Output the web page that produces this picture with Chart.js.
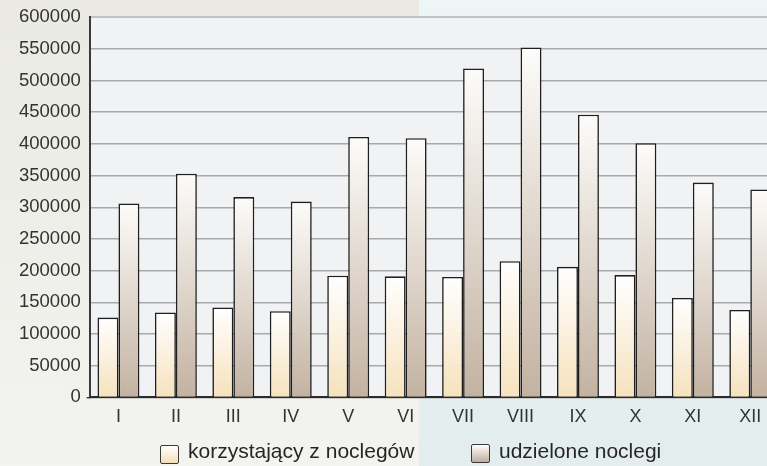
<!DOCTYPE html>
<html>
<head>
<meta charset="utf-8">
<script src="https://cdn.jsdelivr.net/npm/chart.js@4.4.1/dist/chart.umd.min.js"></script>
<style>
  html, body { margin: 0; padding: 0; width: 767px; height: 466px; overflow: hidden; }
  body { position: relative; font-family: "Liberation Sans", Arial, sans-serif; color: #262626; }
  .bg-left { position: absolute; left: 0; top: 0; width: 419px; height: 466px; background: linear-gradient(#eaeae3, #f3f3f0); }
  .bg-right { position: absolute; left: 419px; top: 0; width: 348px; height: 466px; background: linear-gradient(#eef5f5, #e3eded); }
  #wrap { position: absolute; left: 0; top: 0; width: 779px; height: 466px; }
  .box { position: absolute; width: 17px; height: 17px; border: 1px solid #3a3a3a; border-radius: 2px; }
  .label { position: absolute; font-size: 21px; line-height: 20px; white-space: nowrap; }
</style>
</head>
<body>
<div class="bg-left"></div>
<div class="bg-right"></div>
<div id="wrap"><canvas id="chart" width="779" height="466"></canvas></div>

<div class="box" style="left:160px; top:445px; background: linear-gradient(#ffffff, #f4dfb6);"></div>
<div class="label" id="lab1" style="left:188px; top:441px;"></div>
<div class="box" style="left:471px; top:444px; background: linear-gradient(#ffffff, #bfae9d);"></div>
<div class="label" id="lab2" style="left:499px; top:441px;"></div>

<script>
// months (Roman numerals)
const months = ['I', 'II', 'III', 'IV', 'V', 'VI', 'VII', 'VIII', 'IX', 'X', 'XI', 'XII'];
const seriesNames = ['korzystający z noclegów', 'udzielone noclegi'];

// values
const guests = [126000, 134000, 142000, 136000, 192000, 191000, 190000, 215000, 206000, 193000, 157000, 138000];
const nights = [306000, 353000, 316000, 309000, 411000, 409000, 519000, 552000, 446000, 401000, 339000, 328000];

// y axis
const yMin = 0;
const yMax = 600000;
const yStep = 50000;

document.getElementById('lab1').textContent = seriesNames[0];
document.getElementById('lab2').textContent = seriesNames[1];

// vertical gradient from the top of each bar down to the baseline
function barGradient(topColor, bottomColor) {
  return function (ctx) {
    const chart = ctx.chart;
    if (!chart.chartArea || ctx.type !== 'data') return bottomColor;
    const y = chart.scales.y;
    const g = chart.ctx.createLinearGradient(0, y.getPixelForValue(ctx.raw), 0, y.getPixelForValue(0));
    g.addColorStop(0, topColor);
    g.addColorStop(1, bottomColor);
    return g;
  };
}

const plotBackground = {
  id: 'plotBackground',
  beforeDraw(chart) {
    const { ctx, chartArea: a } = chart;
    ctx.save();
    ctx.fillStyle = '#f1f2f4';
    ctx.fillRect(a.left, a.top, a.right - a.left, a.bottom - a.top);
    ctx.restore();
  }
};

const ctx = document.getElementById('chart').getContext('2d');
const chart = new Chart(ctx, {
  type: 'bar',
  data: {
    labels: months,
    datasets: [
      {
        label: seriesNames[0],
        data: guests,
        backgroundColor: barGradient('#ffffff', '#f6e2bd'),
        borderColor: '#1f1f1f',
        borderWidth: 1.6,
      },
      {
        label: seriesNames[1],
        data: nights,
        backgroundColor: barGradient('#fdfcfa', '#c3b2a1'),
        borderColor: '#1f1f1f',
        borderWidth: 1.6,
      },
    ],
  },
  options: {
    responsive: false,
    animation: false,
    devicePixelRatio: 1,
    categoryPercentage: 0.73,
    barPercentage: 1,
    layout: { padding: { left: 13, top: 16, right: 0, bottom: 29 } },
    plugins: {
      legend: { display: false },
      tooltip: { enabled: false },
    },
    scales: {
      x: {
        grid: { display: false, drawTicks: false },
        border: { color: '#2b2b2b', width: 2 },
        ticks: {
          color: '#333',
          padding: 9,
          font: { family: '"Liberation Sans", Arial, sans-serif', size: 18 },
        },
      },
      y: {
        min: yMin,
        max: yMax,
        border: { color: '#3a3a3a', width: 2 },
        grid: {
          color: (c) => (c.tick && c.tick.value === yMax ? '#c2c2c2' : '#a9a9a9'),
          lineWidth: (c) => (c.tick && c.tick.value === yMax ? 2 : 1.4),
          tickLength: 3,
          tickColor: (c) => (c.tick && c.tick.value === 0 ? '#2b2b2b' : 'rgba(0,0,0,0)'),
        },
        ticks: {
          stepSize: yStep,
          color: '#333',
          padding: 6,
          font: { family: '"Liberation Sans", Arial, sans-serif', size: 18.5 },
          callback: (v) => String(v),
        },
      },
    },
  },
  plugins: [plotBackground],
});
</script>
</body>
</html>
